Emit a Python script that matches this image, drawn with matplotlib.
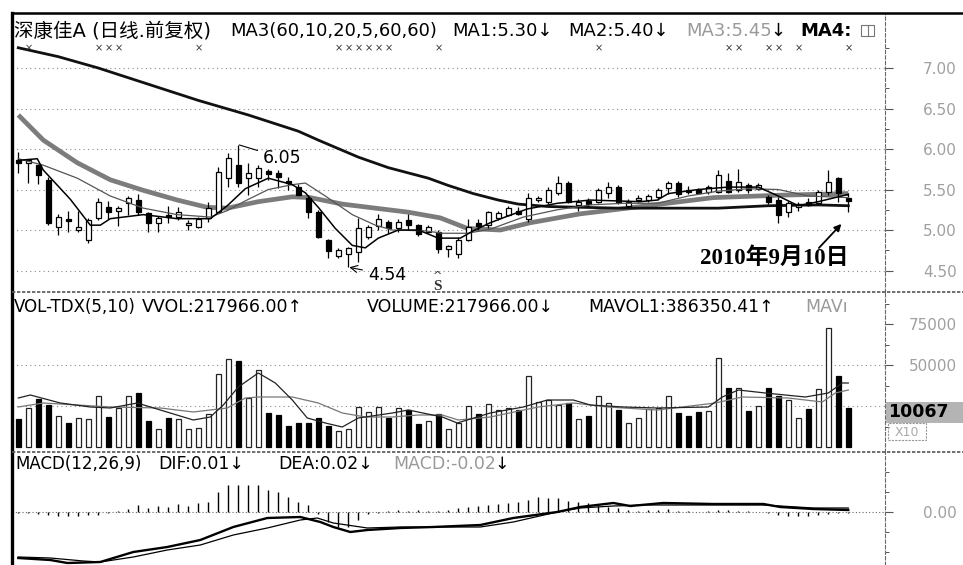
import matplotlib
matplotlib.use("Agg")
import matplotlib.pyplot as plt
import matplotlib.transforms as mtrans
from matplotlib.patches import Rectangle
from matplotlib.lines import Line2D
import numpy as np

plt.rcParams['font.family'] = ['DejaVu Sans', 'Noto Sans CJK SC']

# ---------------- data ----------------
opens = [5.87, 5.83, 5.80, 5.62, 5.04, 5.13, 5.00, 4.88, 5.15, 5.28,
         5.24, 5.33, 5.37, 5.21, 5.09, 5.19, 5.16, 5.06, 5.04, 5.15,
         5.22, 5.64, 5.80, 5.64, 5.64, 5.73, 5.70, 5.61, 5.53, 5.40,
         5.22, 4.88, 4.68, 4.70, 4.73, 4.92, 5.05, 5.10, 5.03, 5.12,
         5.06, 4.98, 4.98, 4.76, 4.70, 4.88, 5.09, 5.06, 5.15, 5.19,
         5.23, 5.13, 5.37, 5.35, 5.46, 5.58, 5.31, 5.36, 5.35, 5.46,
         5.53, 5.30, 5.37, 5.37, 5.41, 5.52, 5.58, 5.50, 5.50, 5.47,
         5.47, 5.60, 5.49, 5.55, 5.51, 5.41, 5.37, 5.22, 5.29, 5.35,
         5.33, 5.47, 5.64, 5.40]
closes = [5.83, 5.86, 5.68, 5.09, 5.16, 5.11, 5.04, 5.12, 5.35, 5.22,
          5.27, 5.40, 5.22, 5.09, 5.15, 5.16, 5.22, 5.09, 5.14, 5.27,
          5.72, 5.89, 5.58, 5.70, 5.76, 5.69, 5.66, 5.58, 5.43, 5.22,
          4.92, 4.74, 4.75, 4.78, 5.02, 5.04, 5.14, 5.02, 5.10, 5.06,
          4.95, 5.04, 4.76, 4.80, 4.88, 5.04, 5.05, 5.22, 5.21, 5.27,
          5.20, 5.40, 5.39, 5.49, 5.58, 5.34, 5.35, 5.32, 5.50, 5.53,
          5.34, 5.34, 5.39, 5.42, 5.49, 5.58, 5.44, 5.47, 5.46, 5.53,
          5.68, 5.47, 5.59, 5.50, 5.55, 5.34, 5.19, 5.33, 5.31, 5.31,
          5.47, 5.59, 5.46, 5.36]
highs = [5.96, 5.88, 5.82, 5.65, 5.20, 5.24, 5.24, 5.15, 5.40, 5.36,
         5.30, 5.42, 5.45, 5.22, 5.17, 5.30, 5.28, 5.12, 5.16, 5.35,
         5.78, 5.95, 6.05, 5.83, 5.80, 5.75, 5.74, 5.65, 5.57, 5.43,
         5.25, 4.89, 4.78, 4.79, 5.15, 5.06, 5.20, 5.12, 5.14, 5.20,
         5.08, 5.06, 5.00, 4.82, 4.91, 5.14, 5.13, 5.24, 5.24, 5.30,
         5.28, 5.46, 5.42, 5.53, 5.67, 5.61, 5.38, 5.39, 5.52, 5.59,
         5.56, 5.38, 5.43, 5.45, 5.52, 5.61, 5.61, 5.54, 5.52, 5.55,
         5.74, 5.70, 5.75, 5.58, 5.58, 5.43, 5.41, 5.36, 5.34, 5.39,
         5.49, 5.74, 5.65, 5.46]
lows = [5.70, 5.58, 5.57, 5.06, 4.94, 4.98, 4.98, 4.84, 5.12, 5.14,
        5.05, 5.19, 5.19, 4.98, 4.98, 5.09, 5.12, 5.00, 5.03, 5.10,
        5.22, 5.53, 5.53, 5.43, 5.53, 5.62, 5.52, 5.50, 5.43, 5.15,
        4.90, 4.66, 4.66, 4.54, 4.60, 4.89, 5.00, 4.96, 4.97, 5.00,
        4.93, 4.96, 4.72, 4.67, 4.65, 4.86, 5.00, 5.03, 5.12, 5.17,
        5.18, 5.10, 5.35, 5.32, 5.43, 5.33, 5.23, 5.29, 5.33, 5.40,
        5.32, 5.28, 5.35, 5.35, 5.37, 5.45, 5.41, 5.44, 5.44, 5.45,
        5.46, 5.46, 5.47, 5.46, 5.49, 5.32, 5.09, 5.16, 5.24, 5.30,
        5.33, 5.43, 5.35, 5.22]
volumes = [17080, 23790, 29280, 25620, 18910, 14640, 17690, 17080, 31110, 18300,
           23790, 31110, 32940, 15860, 10980, 17690, 17080, 10980, 11590, 20130,
           44530, 53680, 52460, 29890, 46970, 20740, 19520, 12810, 14640, 14640,
           17690, 12810, 9760, 10980, 24400, 21350, 24400, 17690, 23790, 22570,
           14030, 15860, 20130, 10980, 14640, 25010, 20130, 26230, 22570, 23790,
           22570, 43310, 27450, 28670, 25620, 26840, 17080, 18910, 31110, 26840,
           22570, 14640, 17690, 23180, 23790, 31110, 20740, 18910, 21350, 21960,
           54290, 35990, 35990, 21960, 25010, 35990, 31110, 28670, 17690, 23180,
           35380, 72590, 43310, 23790]
macd_hist = [-0.005, -0.005, -0.01, -0.015, -0.02, -0.02, -0.02, -0.015, -0.015, -0.005,
             0.005, 0.015, 0.035, 0.02, 0.03, 0.025, 0.04, 0.03, 0.045, 0.05,
             0.10, 0.135, 0.135, 0.135, 0.135, 0.11, 0.10, 0.075, 0.05, 0.035,
             -0.01, -0.05, -0.075, -0.075, -0.04, -0.01, -0.005, 0.005, 0.01, 0.005,
             0.01, 0.005, 0.005, 0.01, 0.02, 0.025, 0.03, 0.035, 0.04, 0.045,
             0.05, 0.06, 0.075, 0.07, 0.07, 0.055, 0.05, 0.045, 0.03, 0.025,
             0.02, 0.01, 0.005, 0.01, 0.01, 0.015, 0.005, 0.005, 0.0025, 0.005,
             0.01, 0.01, 0.005, 0.005, 0.0, -0.005, -0.015, -0.02, -0.02, -0.02,
             -0.015, -0.01, -0.005, -0.005]

# moving averages: (bar position, value)
ma60_x = [0, 4, 8, 13, 18, 23, 28, 30, 34, 37, 41, 43, 45.5, 48, 50, 53, 60, 70, 75, 80, 83]
ma60_v = [7.25, 7.14, 7.00, 6.80, 6.60, 6.42, 6.22, 6.11, 5.90, 5.77, 5.64, 5.55, 5.45, 5.37, 5.32,
          5.29, 5.27, 5.27, 5.30, 5.31, 5.30]
ma20_x = [0, 2.5, 5.9, 9.2, 12.5, 15.9, 18.9, 20.9, 24, 27.4, 29.2, 32.4, 35.7, 39, 42.2, 44.9,
          48.2, 51.2, 56.2, 62.9, 69.5, 76.2, 83]
ma20_v = [6.42, 6.11, 5.83, 5.62, 5.49, 5.37, 5.28, 5.27, 5.35, 5.41, 5.40, 5.32, 5.27, 5.22, 5.15,
          5.02, 5.00, 5.09, 5.20, 5.30, 5.40, 5.43, 5.45]
ma10_x = [0, 2.5, 5.9, 9.2, 12.5, 15.9, 19.2, 20.9, 22.7, 25, 27.4, 28.7, 30.7, 33.4, 35.7, 37.4,
          40.7, 42.4, 44.9, 47.2, 50.5, 53.9, 57.2, 60.5, 63.9, 67, 70, 73, 76, 79, 83]
ma10_v = [5.88, 5.80, 5.64, 5.42, 5.27, 5.19, 5.16, 5.24, 5.36, 5.50, 5.56, 5.58, 5.42, 5.19, 5.06,
          5.00, 4.99, 4.96, 4.96, 5.01, 5.16, 5.25, 5.31, 5.33, 5.33, 5.42, 5.48, 5.51, 5.50, 5.42, 5.40]
ma5_x = [0, 1.9, 2.5, 5.2, 7.2, 8.2, 9.2, 12.5, 15.9, 19.2, 20.9, 22.7, 25, 27.4, 28.7, 30, 31.7,
         33.4, 34.7, 36, 38, 40, 42, 44.2, 45.5, 47.2, 48.9, 50.9, 53.9, 57.2, 62.2, 63.9, 65, 68,
         71, 74, 76, 78, 80, 83]
ma5_v = [5.86, 5.88, 5.74, 5.38, 5.06, 5.06, 5.14, 5.19, 5.14, 5.14, 5.30, 5.51, 5.64, 5.56, 5.46,
         5.28, 5.02, 4.81, 4.78, 4.90, 5.00, 5.00, 4.90, 4.90, 4.99, 5.09, 5.17, 5.26, 5.33, 5.37,
         5.35, 5.37, 5.45, 5.50, 5.53, 5.53, 5.42, 5.30, 5.35, 5.44]
mavol5_x = [0, 1.2, 4.2, 7.2, 9.2, 11.9, 14.2, 17.5, 19.2, 20.5, 22, 24, 25.7, 27.4, 28.9, 30.7,
            32.4, 34, 37.4, 39, 42.4, 43.9, 47.2, 50.5, 52.9, 55.5, 57.2, 60.5, 63.9, 69, 70.4, 72,
            74.7, 78.7, 81, 82.4, 83]
mavol5_v = [29890, 31720, 26840, 24400, 23790, 26840, 22570, 16470, 18300, 25620, 36600, 45140,
            39040, 28670, 17690, 14640, 12200, 17690, 20740, 22570, 18300, 14640, 20740, 24400,
            28670, 28670, 25620, 24400, 23790, 24400, 30500, 34770, 32940, 30500, 32940, 39040, 39040]
mavol10_x = [0, 2.5, 5.9, 9.2, 14.2, 17.5, 20.9, 22.7, 24, 27.4, 30, 32.4, 34.7, 37.4, 40, 42.4,
             44, 47.2, 52, 55.5, 58.9, 63.9, 69.7, 72.4, 77, 80.4, 81.7, 83]
mavol10_v = [24400, 26840, 25620, 24400, 23790, 21350, 23790, 29890, 30500, 30500, 26840, 20740,
             18300, 18300, 19520, 19520, 16470, 18300, 24400, 26840, 24400, 22570, 26840, 30500,
             29890, 27450, 32940, 34770]
dif_x = [0, 3.2, 4.9, 8.2, 11.5, 14.9, 18.2, 21.5, 24.9, 28.2, 30.2, 31.5, 33.2, 34.9, 38.2, 41.5,
         46.2, 49.5, 53.9, 56.2, 59.5, 61.2, 64.5, 69.5, 74.5, 76.2, 79.5, 83]
dif_v = [-0.23, -0.24, -0.255, -0.25, -0.20, -0.175, -0.14, -0.075, -0.03, -0.025, -0.05, -0.075,
         -0.10, -0.09, -0.08, -0.075, -0.065, -0.03, 0.0, 0.025, 0.045, 0.03, 0.045, 0.04, 0.04,
         0.025, 0.015, 0.01]
dea_x = [0, 3.2, 6.5, 8.2, 11.5, 14.9, 18.2, 21.5, 24.9, 28.2, 29.9, 31.5, 34.9, 38.2, 46.2, 49.5,
         53.9, 56.2, 59.5, 62.9, 69.5, 74.5, 76.2, 79.5, 83]
dea_v = [-0.225, -0.23, -0.245, -0.25, -0.225, -0.19, -0.165, -0.115, -0.08, -0.04, -0.03, -0.055,
         -0.08, -0.075, -0.075, -0.05, 0.0, 0.02, 0.03, 0.035, 0.035, 0.035, 0.03, 0.02, 0.02]
signal_marks = [1, 8, 9, 10, 18, 32, 33, 34, 35, 36, 37, 42, 58, 71, 72, 75, 76, 78, 83]

price_ticks = [4.50, 5.00, 5.50, 6.00, 6.50, 7.00]
vol_ticks = [25000, 50000, 75000]
macd_ticks = [0.0]

# ---------------- layout ----------------
W, H = 963, 565
def fx(x):
    return x / W
def fy(y):
    return 1 - y / H

fig = plt.figure(figsize=(W / 100, H / 100), dpi=100)
fig.patch.set_facecolor('white')

LEFT, RIGHT = 12, 885
ax_p = fig.add_axes([fx(LEFT), fy(292), (RIGHT - LEFT) / W, (292 - 13) / H])
ax_v = fig.add_axes([fx(LEFT), fy(452), (RIGHT - LEFT) / W, (452 - 292) / H])
ax_m = fig.add_axes([fx(LEFT), fy(565), (RIGHT - LEFT) / W, (565 - 452) / H])

xlim = (-0.63, 86.67)
ax_p.set_ylim(4.235, 7.679)
ax_v.set_ylim(-3050, 94550)
ax_m.set_ylim(-0.265, 0.30)

grid_kw = dict(color='#8a8a8a', lw=0.8, linestyle=(0, (1, 3)), zorder=0)
for ax in (ax_p, ax_v, ax_m):
    ax.set_xlim(*xlim)
    ax.set_facecolor('none')
    for s in ('left', 'top', 'bottom'):
        ax.spines[s].set_visible(False)
    ax.spines['right'].set_linestyle((0, (3, 2)))
    ax.spines['right'].set_color('#6a6a6a')
    ax.spines['right'].set_linewidth(0.8)
    ax.set_xticks([])
    ax.yaxis.tick_right()
    ax.tick_params(axis='y', which='major', direction='out', length=5.8, width=0.8,
                   color='#555555', pad=46, labelcolor='#a0a0a0', labelsize=11)
    ax.tick_params(axis='y', which='minor', direction='out', length=3, width=0.7, color='#555555')

ax_p.set_yticks(price_ticks)
ax_p.set_yticklabels([f"{t:.2f}" for t in price_ticks])
ax_p.set_yticks([4.75, 5.25, 5.75, 6.25, 6.75, 7.25], minor=True)
ax_v.set_yticks(vol_ticks)
# the 25000 label sits under the current-volume box in the reference
ax_v.set_yticklabels(['' if t == 25000 else str(t) for t in vol_ticks])
ax_v.set_yticks([12500, 37500, 62500, 87500], minor=True)
ax_m.set_yticks(macd_ticks)
ax_m.set_yticklabels(["0.00"])
ax_m.set_yticks([-0.2, -0.1, 0.1, 0.2], minor=True)
for ax in (ax_p, ax_v, ax_m):
    for lbl in ax.get_yticklabels():
        lbl.set_horizontalalignment('right')

for t in price_ticks:
    ax_p.axhline(t, **grid_kw)
for t in vol_ticks[:2]:
    ax_v.axhline(t, **grid_kw)
ax_m.axhline(0, color='#666666', lw=0.8, linestyle=(0, (1, 2)), zorder=0)

# ---------------- candles ----------------
n = len(closes)
xs = np.arange(n)
o = np.array(opens); c = np.array(closes); h = np.array(highs); l = np.array(lows)
up = c >= o
ax_p.vlines(xs, l, h, color='black', lw=0.9, zorder=3)
body_lo = np.minimum(o, c)
body_h = np.maximum(np.abs(c - o), 0.012)
ax_p.bar(xs[up], body_h[up], bottom=body_lo[up], width=0.55, facecolor='white',
         edgecolor='black', linewidth=0.9, zorder=4)
ax_p.bar(xs[~up], body_h[~up], bottom=body_lo[~up], width=0.55, facecolor='black',
         edgecolor='black', linewidth=0.9, zorder=4)

# moving averages
ax_p.plot(ma20_x, ma20_v, color='#7c7c7c', lw=3.4, zorder=2, solid_capstyle='butt')
ax_p.plot(ma60_x, ma60_v, color='#111111', lw=2.0, zorder=2)
ax_p.plot(ma10_x, ma10_v, color='#555555', lw=0.9, zorder=5)
ax_p.plot(ma5_x, ma5_v, color='black', lw=1.1, zorder=5)

# signal marks row
blend_p = mtrans.blended_transform_factory(ax_p.transData, ax_p.transAxes)
for i in signal_marks:
    ax_p.text(i, 0.875, '×', transform=blend_p, ha='center', va='center',
              fontsize=7, color='#333333')

# annotations
ax_p.annotate(f"{highs[22]:.2f}", xy=(22.1, highs[22]), xytext=(263, H - 158),
              textcoords='figure pixels', va='center', ha='left', fontsize=12.5,
              arrowprops=dict(arrowstyle='-', lw=0.8, color='black', shrinkA=2, shrinkB=0))
ax_p.annotate(f"{lows[33]:.2f}", xy=(33.1, lows[33]), xytext=(368, H - 275),
              textcoords='figure pixels', va='center', ha='left', fontsize=12.5,
              arrowprops=dict(arrowstyle='->', lw=0.8, color='black', shrinkA=2, shrinkB=0))
ax_p.annotate('', xy=(n - 1.5, lows[-1] - 0.12), xytext=(817, H - 250),
              textcoords='figure pixels',
              arrowprops=dict(arrowstyle='-|>', lw=1.3, color='black', mutation_scale=10))
fig.text(fx(700), fy(258), '2010年9月10日', family=['Liberation Serif', 'Noto Sans CJK SC'],
         fontsize=16.5, fontweight='bold', ha='left', va='center', color='black')
fig.text(fx(437), fy(276), '^', fontsize=8, ha='center', va='center', color='#333333')
fig.text(fx(437), fy(287), 'S', family=['Liberation Serif'], fontweight='bold',
         fontsize=11, ha='center', va='center', color='#333333')

# ---------------- volume ----------------
v = np.array(volumes)
ax_v.bar(xs[up], v[up], width=0.55, facecolor='white', edgecolor='#222222', linewidth=0.9, zorder=3)
ax_v.bar(xs[~up], v[~up], width=0.55, facecolor='black', edgecolor='black', linewidth=0.9, zorder=3)
ax_v.plot(mavol10_x, mavol10_v, color='#777777', lw=0.9, zorder=4)
ax_v.plot(mavol5_x, mavol5_v, color='#222222', lw=0.9, zorder=4)

# ---------------- MACD ----------------
ax_m.vlines(xs, 0, macd_hist, color='black', lw=1.0, zorder=3)
ax_m.plot(dea_x, dea_v, color='black', lw=0.9, zorder=4)
ax_m.plot(dif_x, dif_v, color='black', lw=1.7, zorder=4)

# ---------------- frame lines ----------------
fig.add_artist(Line2D([fx(12), fx(963)], [fy(13), fy(13)], color='black', lw=1.8))
fig.add_artist(Line2D([fx(12), fx(12)], [fy(13), fy(565)], color='black', lw=2.4))
for yy in (292, 452):
    fig.add_artist(Line2D([fx(12), fx(963)], [fy(yy), fy(yy)], color='#555555', lw=1.2,
                          linestyle=(0, (2, 1))))

# ---------------- headers ----------------
def htext(x, y, s, color='black', weight='normal', size=13):
    fig.text(fx(x), fy(y), s, ha='left', va='center', fontsize=size, color=color,
             fontweight=weight)

htext(14, 31, '深康佳A (日线.前复权)', size=14)
htext(230, 31, 'MA3(60,10,20,5,60,60)')
htext(452, 31, 'MA1:5.30↓')
htext(568, 31, 'MA2:5.40↓')
htext(686, 31, 'MA3:5.45', color='#9a9a9a')
htext(770, 31, '↓')
htext(800, 31, 'MA4:', weight='bold')
fig.add_artist(Rectangle((fx(861), fy(36)), 13 / W, 11 / H, transform=fig.transFigure,
                         facecolor='none', edgecolor='#777777', lw=0.8))
fig.add_artist(Line2D([fx(867.5), fx(867.5)], [fy(36), fy(25)], color='#777777', lw=0.8))

htext(14, 307, 'VOL-TDX(5,10)', size=12)
htext(142, 307, 'VVOL:217966.00↑', size=12.5)
htext(367, 307, 'VOLUME:217966.00↓', size=12.5)
htext(588, 307, 'MAVOL1:386350.41↑', size=12.5)
htext(805, 307, 'MAVı', color='#9a9a9a', size=12.5)

htext(15, 464, 'MACD(12,26,9)', size=12)
htext(158, 464, 'DIF:0.01↓', size=12.5)
htext(278, 464, 'DEA:0.02↓', size=12.5)
htext(393, 464, 'MACD:-0.02', color='#9a9a9a', size=12.5)
htext(494, 464, '↓', size=12.5)

# current volume box
fig.add_artist(Rectangle((fx(886), fy(423)), (963 - 886) / W, 21 / H, transform=fig.transFigure,
                         facecolor='#b4b4b4', edgecolor='none', zorder=5))
fig.text(fx(888), fy(412), '10067', fontsize=12.5, fontweight='bold', color='black',
         ha='left', va='center', zorder=6)
fig.add_artist(Rectangle((fx(888), fy(440)), 38 / W, 17 / H, transform=fig.transFigure,
                         facecolor='none', edgecolor='#999999', lw=0.8, linestyle=(0, (2, 1)),
                         zorder=5))
fig.text(fx(907), fy(432), 'X10', fontsize=9, color='#aaaaaa', ha='center', va='center')

fig.savefig('out.png', dpi=100, facecolor='white')
